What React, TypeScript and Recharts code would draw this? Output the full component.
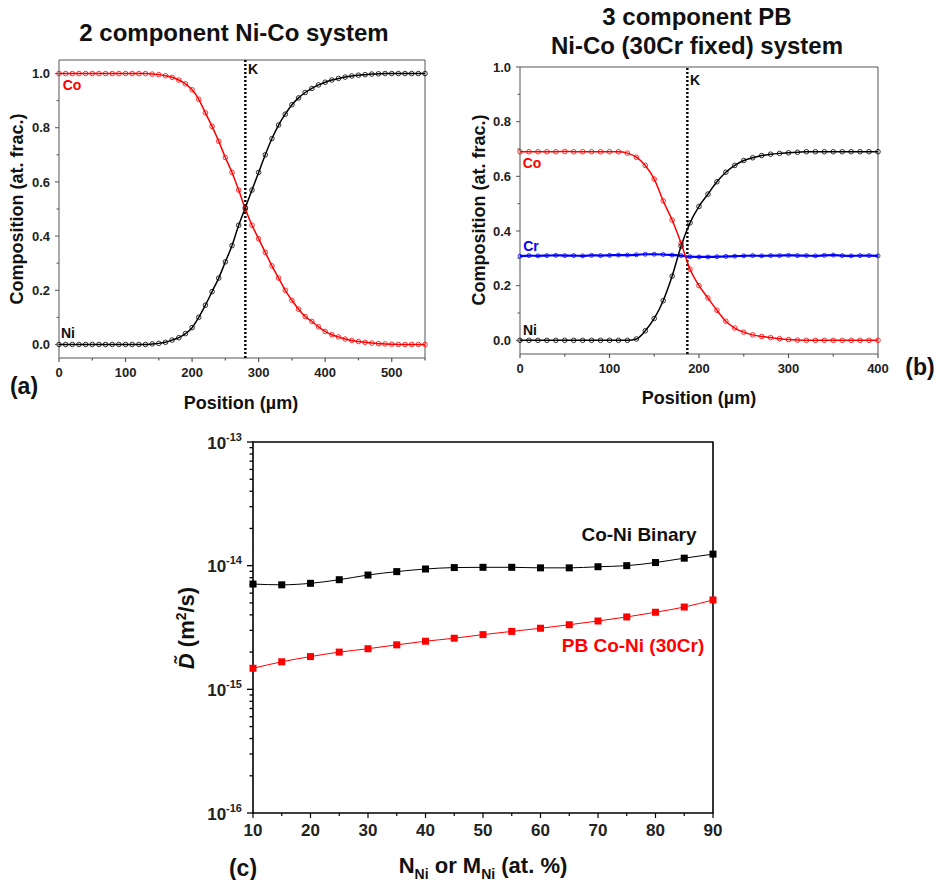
import React from "react"
import { Line, LineChart, ReferenceArea, ReferenceLine, XAxis, YAxis } from "recharts"

// panel (a): 2 component Ni-Co couple
const posA = [0, 10, 20, 30, 40, 50, 60, 70, 80, 90, 100, 110, 120, 130, 140, 150, 160, 170, 180, 190, 200, 210, 220, 230, 240, 250, 260, 270, 280, 290, 300, 310, 320, 330, 340, 350, 360, 370, 380, 390, 400, 410, 420, 430, 440, 450, 460, 470, 480, 490, 500, 510, 520, 530, 540, 550]
const coA = [1, 1, 1, 1, 1, 1, 1, 1, 1, 1, 1, 1, 1, 1, 0.998, 0.996, 0.992, 0.986, 0.976, 0.962, 0.94, 0.905, 0.855, 0.805, 0.75, 0.69, 0.635, 0.57, 0.5, 0.44, 0.39, 0.34, 0.29, 0.245, 0.2, 0.163, 0.13, 0.103, 0.085, 0.065, 0.048, 0.036, 0.028, 0.02, 0.015, 0.011, 0.008, 0.005, 0.003, 0.002, 0.001, 0, 0, 0, 0, 0]
const niA = [0, 0, 0, 0, 0, 0, 0, 0, 0, 0, 0, 0, 0, 0, 0.002, 0.004, 0.008, 0.016, 0.025, 0.04, 0.062, 0.1, 0.145, 0.195, 0.245, 0.305, 0.365, 0.44, 0.505, 0.57, 0.635, 0.7, 0.76, 0.81, 0.85, 0.885, 0.91, 0.93, 0.945, 0.958, 0.968, 0.976, 0.982, 0.987, 0.991, 0.994, 0.996, 0.998, 0.999, 1, 1, 1, 1, 1, 1, 1]
const kA = 280

// panel (b): 3 component pseudo-binary with 30Cr fixed
const posB = [0, 10, 20, 30, 40, 50, 60, 70, 80, 90, 100, 110, 120, 130, 140, 150, 160, 170, 180, 190, 200, 210, 220, 230, 240, 250, 260, 270, 280, 290, 300, 310, 320, 330, 340, 350, 360, 370, 380, 390, 400]
const coB = [0.69, 0.69, 0.69, 0.69, 0.69, 0.691, 0.69, 0.69, 0.69, 0.69, 0.69, 0.69, 0.685, 0.67, 0.64, 0.59, 0.51, 0.44, 0.355, 0.26, 0.2, 0.155, 0.11, 0.07, 0.045, 0.03, 0.02, 0.014, 0.01, 0.006, 0.003, 0.001, 0, 0, 0, 0, 0, 0, 0, 0, 0]
const crB = [0.308, 0.31, 0.309, 0.31, 0.311, 0.31, 0.31, 0.309, 0.311, 0.31, 0.311, 0.312, 0.312, 0.313, 0.315, 0.315, 0.314, 0.312, 0.31, 0.306, 0.305, 0.305, 0.306, 0.307, 0.308, 0.309, 0.31, 0.309, 0.31, 0.31, 0.311, 0.31, 0.31, 0.309, 0.311, 0.312, 0.31, 0.309, 0.31, 0.31, 0.309]
const niB = [0, 0, 0, 0, 0, 0, 0, 0, 0, 0, 0, 0, 0, 0.005, 0.035, 0.08, 0.145, 0.235, 0.345, 0.43, 0.49, 0.535, 0.58, 0.615, 0.64, 0.658, 0.668, 0.676, 0.681, 0.684, 0.686, 0.688, 0.69, 0.69, 0.69, 0.69, 0.69, 0.69, 0.69, 0.69, 0.69]
const kB = 187

// panel (c): interdiffusion coefficients
const nNi = [10, 15, 20, 25, 30, 35, 40, 45, 50, 55, 60, 65, 70, 75, 80, 85, 90]
const binaryD = [7.1e-15, 7.0e-15, 7.2e-15, 7.7e-15, 8.4e-15, 8.95e-15, 9.4e-15, 9.65e-15, 9.7e-15, 9.7e-15, 9.6e-15, 9.6e-15, 9.8e-15, 1.0e-14, 1.06e-14, 1.15e-14, 1.24e-14]
const pbD = [1.48e-15, 1.67e-15, 1.84e-15, 2.0e-15, 2.13e-15, 2.29e-15, 2.45e-15, 2.59e-15, 2.77e-15, 2.94e-15, 3.12e-15, 3.33e-15, 3.57e-15, 3.85e-15, 4.2e-15, 4.63e-15, 5.28e-15]

const compTicks = [0, 0.1, 0.2, 0.3, 0.4, 0.5, 0.6, 0.7, 0.8, 0.9, 1.0]
const compMajor = [0, 0.2, 0.4, 0.6, 0.8, 1.0]
const posTicksA = [0, 50, 100, 150, 200, 250, 300, 350, 400, 450, 500, 550]
const posTicksB = [0, 50, 100, 150, 200, 250, 300, 350, 400]
const posMajor = [0, 100, 200, 300, 400, 500]
const nTicks = [10, 15, 20, 25, 30, 35, 40, 45, 50, 55, 60, 65, 70, 75, 80, 85, 90]
const nMajor = [10, 20, 30, 40, 50, 60, 70, 80, 90]
const dTicks = [1e-16, 2e-16, 3e-16, 4e-16, 5e-16, 6e-16, 7e-16, 8e-16, 9e-16, 1e-15, 2e-15, 3e-15, 4e-15, 5e-15, 6e-15, 7e-15, 8e-15, 9e-15, 1e-14, 2e-14, 3e-14, 4e-14, 5e-14, 6e-14, 7e-14, 8e-14, 9e-14, 1e-13]
const dMajor: Record<string, string> = { "1e-16": "-16", "1e-15": "-15", "1e-14": "-14", "1e-13": "-13" }

const dataA = posA.map((x, i) => ({ x, co: coA[i], ni: niA[i] }))
const dataB = posB.map((x, i) => ({ x, co: coB[i], cr: crB[i], ni: niB[i] }))
const dataC = nNi.map((x, i) => ({ x, bin: binaryD[i], pb: pbD[i] }))

const FONT = "'Liberation Sans', Arial, sans-serif"
const GREY = "#555"

const isIn = (list: number[], v: number) => list.some(m => Math.abs(m - v) < 1e-9)

const xTick = (majors: number[], color: string, size: number, len: number) => (props: any) => {
  const { x, y, payload } = props
  const major = isIn(majors, payload.value)
  return (
    <g>
      <line x1={x} x2={x} y1={y} y2={y + (major ? len : len * 0.6)} stroke={color} strokeWidth={1.2} />
      {major && (
        <text x={x} y={y + len + 5} dy="0.75em" textAnchor="middle" fontSize={size} fontWeight="bold" fontFamily={FONT} fill="#222">
          {payload.value}
        </text>
      )}
    </g>
  )
}

const compTick = (props: any) => {
  const { x, y, payload } = props
  const major = isIn(compMajor, payload.value)
  return (
    <g>
      <line x1={x} x2={x - (major ? 4 : 2.5)} y1={y} y2={y} stroke={GREY} strokeWidth={1} />
      {major && (
        <text x={x - 9} y={y} dy="0.36em" textAnchor="end" fontSize={13} fontWeight="bold" fontFamily={FONT} fill="#222">
          {payload.value.toFixed(1)}
        </text>
      )}
    </g>
  )
}

const logTick = (props: any) => {
  const { x, y, payload } = props
  const exp = dMajor[String(payload.value)]
  return (
    <g>
      <line x1={x} x2={x - (exp ? 6 : 3.5)} y1={y} y2={y} stroke="#000" strokeWidth={1.3} />
      {exp && (
        <text x={x - 11} y={y} dy="0.4em" textAnchor="end" fontSize={17} fontWeight="bold" fontFamily={FONT} fill="#222">
          <tspan>10</tspan>
          <tspan dy={-8} fontSize={11}>{exp}</tspan>
        </text>
      )}
    </g>
  )
}

const squareDot = (color: string) => (props: any) => {
  const { cx, cy, index } = props
  if (cx == null || cy == null) return <g key={index} />
  return <rect key={index} x={cx - 3.5} y={cy - 3.5} width={7} height={7} fill={color} />
}

const Txt: React.FC<{ x: number, y: number, size: number, color?: string, rotate?: boolean, children: React.ReactNode }> =
  ({ x, y, size, color = "#111", rotate = false, children }) => (
    <div style={{
      position: "absolute", left: x, top: y, whiteSpace: "nowrap",
      transform: `translate(-50%, -50%)${rotate ? " rotate(-90deg)" : ""}`,
      fontFamily: FONT, fontWeight: "bold", fontSize: size, color, lineHeight: 1,
    }}>{children}</div>
  )

const App: React.FC = () => {
  return (
    <div style={{ position: "absolute", left: 0, top: 0, width: 940, height: 880, background: "#fff" }}>
      {/* (a) */}
      <div style={{ position: "absolute", left: 0, top: 0 }}>
        <LineChart width={470} height={420} data={dataA} margin={{ top: 60, left: 19, right: 45, bottom: 32 }}>
          <XAxis dataKey="x" type="number" domain={[0, 550]} ticks={posTicksA} height={30} axisLine={false}
            tickLine={false} tickSize={0} tickMargin={0} interval={0} tick={xTick(posMajor, GREY, 13, 4)} />
          <YAxis type="number" domain={[-0.05, 1.05]} ticks={compTicks} width={40} axisLine={false}
            tickLine={false} tickSize={0} tickMargin={0} interval={0} tick={compTick} />
          <ReferenceArea x1={0} x2={550} y1={-0.05} y2={1.05} fill="none" stroke={GREY} strokeWidth={1} />
          <ReferenceLine x={kA} stroke="#000" strokeWidth={2.4} strokeDasharray="2 2" />
          <Line dataKey="co" type="monotone" stroke="#ff0000" strokeWidth={1.5} isAnimationActive={false}
            dot={{ r: 2.3, stroke: "#ff0000", strokeWidth: 0.8, fill: "none" }} />
          <Line dataKey="ni" type="monotone" stroke="#000" strokeWidth={1.5} isAnimationActive={false}
            dot={{ r: 2.3, stroke: "#000", strokeWidth: 0.8, fill: "none" }} />
        </LineChart>
      </div>
      <Txt x={234} y={33} size={24}>2 component Ni-Co system</Txt>
      <Txt x={72} y={85} size={14} color="#ff0000">Co</Txt>
      <Txt x={68} y={333} size={14}>Ni</Txt>
      <Txt x={253} y={69} size={14}>K</Txt>
      <Txt x={17} y={209} size={18} rotate>Composition (at. frac.)</Txt>
      <Txt x={241} y={403} size={18}>Position (µm)</Txt>
      <Txt x={24} y={386} size={23}>(a)</Txt>

      {/* (b) */}
      <div style={{ position: "absolute", left: 470, top: 0 }}>
        <LineChart width={470} height={420} data={dataB} margin={{ top: 67, left: 10, right: 62, bottom: 36 }}>
          <XAxis dataKey="x" type="number" domain={[0, 400]} ticks={posTicksB} height={30} axisLine={false}
            tickLine={false} tickSize={0} tickMargin={0} interval={0} tick={xTick(posMajor, GREY, 13, 4)} />
          <YAxis type="number" domain={[-0.05, 1.0]} ticks={compTicks} width={40} axisLine={false}
            tickLine={false} tickSize={0} tickMargin={0} interval={0} tick={compTick} />
          <ReferenceArea x1={0} x2={400} y1={-0.05} y2={1.0} fill="none" stroke={GREY} strokeWidth={1} />
          <ReferenceLine x={kB} stroke="#000" strokeWidth={2.4} strokeDasharray="2 2" />
          <Line dataKey="cr" type="monotone" stroke="#0000ff" strokeWidth={2.2} isAnimationActive={false}
            dot={{ r: 2, stroke: "#0000ff", strokeWidth: 0.8, fill: "none" }} />
          <Line dataKey="co" type="monotone" stroke="#ff0000" strokeWidth={1.5} isAnimationActive={false}
            dot={{ r: 2.3, stroke: "#ff0000", strokeWidth: 0.8, fill: "none" }} />
          <Line dataKey="ni" type="monotone" stroke="#000" strokeWidth={1.5} isAnimationActive={false}
            dot={{ r: 2.3, stroke: "#000", strokeWidth: 0.8, fill: "none" }} />
        </LineChart>
      </div>
      <Txt x={697} y={17} size={24}>3 component PB</Txt>
      <Txt x={697} y={46} size={24}>Ni-Co (30Cr fixed) system</Txt>
      <Txt x={532} y={163} size={14} color="#ff0000">Co</Txt>
      <Txt x={531} y={246} size={14} color="#0000ff">Cr</Txt>
      <Txt x={530} y={330} size={14}>Ni</Txt>
      <Txt x={695} y={80} size={14}>K</Txt>
      <Txt x={479} y={210} size={18} rotate>Composition (at. frac.)</Txt>
      <Txt x={699} y={398} size={18}>Position (µm)</Txt>
      <Txt x={920} y={367} size={23}>(b)</Txt>

      {/* (c) */}
      <div style={{ position: "absolute", left: 0, top: 420 }}>
        <LineChart width={940} height={460} data={dataC} margin={{ top: 22, left: 193, right: 227, bottom: 37 }}>
          <XAxis dataKey="x" type="number" domain={[10, 90]} ticks={nTicks} height={30} axisLine={false}
            tickLine={false} tickSize={0} tickMargin={0} interval={0} tick={xTick(nMajor, "#000", 17, 5)} />
          <YAxis type="number" scale="log" domain={[1e-16, 1e-13]} allowDataOverflow ticks={dTicks} width={60}
            axisLine={false} tickLine={false} tickSize={0} tickMargin={0} interval={0} tick={logTick} />
          <ReferenceArea x1={10} x2={90} y1={1e-16} y2={1e-13} fill="none" stroke="#000" strokeWidth={1.6} />
          <Line dataKey="bin" type="monotone" stroke="#000" strokeWidth={1} isAnimationActive={false} dot={squareDot("#000")} />
          <Line dataKey="pb" type="monotone" stroke="#ff0000" strokeWidth={1} isAnimationActive={false} dot={squareDot("#ff0000")} />
        </LineChart>
      </div>
      <Txt x={639} y={534} size={19}>Co-Ni Binary</Txt>
      <Txt x={633} y={645} size={19} color="#ff0000">PB Co-Ni (30Cr)</Txt>
      <Txt x={186} y={628} size={22} rotate>
        <i>D&#771;</i> (m<sup style={{ fontSize: 14 }}>2</sup>/s)
      </Txt>
      <Txt x={483} y={868} size={22}>
        N<sub style={{ fontSize: 14 }}>Ni</sub> or M<sub style={{ fontSize: 14 }}>Ni</sub> (at. %)
      </Txt>
      <Txt x={243} y={868} size={23}>(c)</Txt>
    </div>
  )
}

export default App
